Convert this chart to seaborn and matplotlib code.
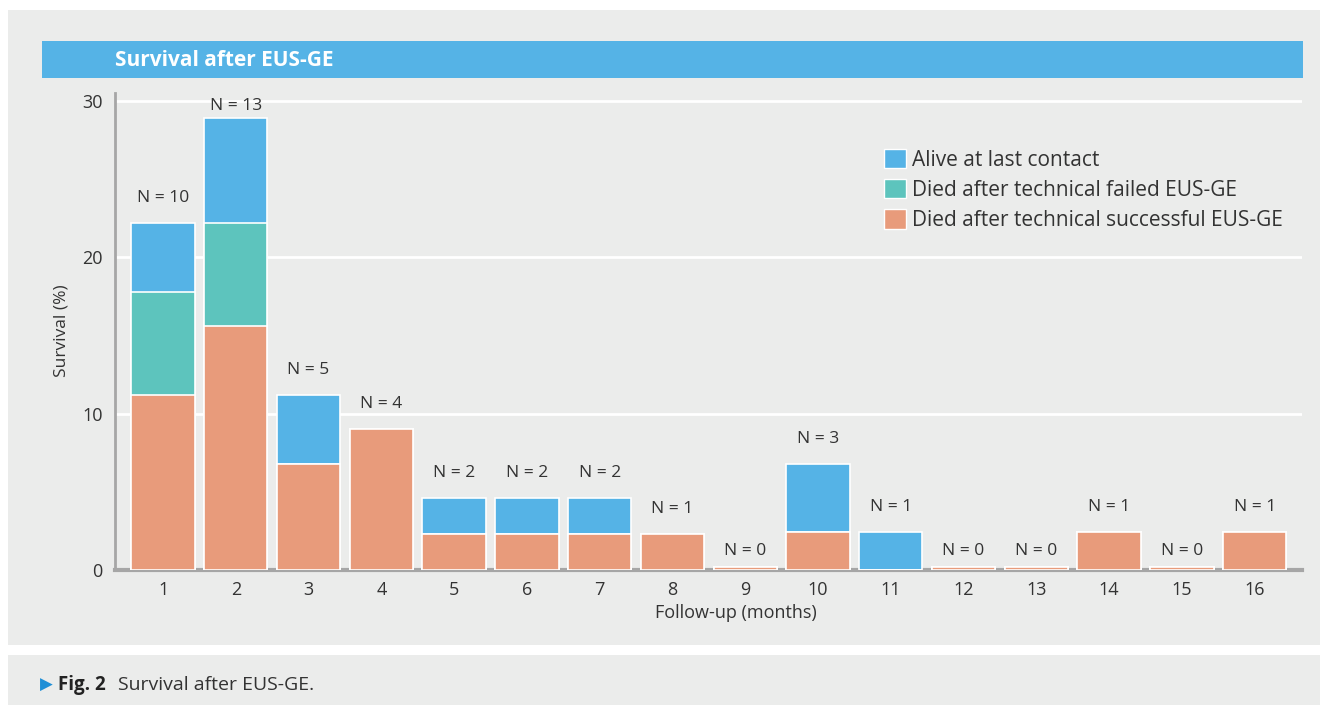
import matplotlib
matplotlib.use("Agg")
import matplotlib.pyplot as plt
import seaborn as sns
import numpy as np
import pandas as pd
from matplotlib.patches import Patch, Rectangle

# ---- data (percent of patients) ----
months = ["1", "2", "3", "4", "5", "6", "7", "8", "9", "10", "11", "12", "13", "14", "15", "16"]
died_success = [11.2, 15.6, 6.8, 9.0, 2.3, 2.3, 2.3, 2.3, 0.2, 2.4, 0.0, 0.2, 0.2, 2.4, 0.2, 2.4]
died_failed = [6.6, 6.6, 0, 0, 0, 0, 0, 0, 0, 0, 0, 0, 0, 0, 0, 0]
alive = [4.4, 6.7, 4.4, 0, 2.3, 2.3, 2.3, 0, 0, 4.4, 2.4, 0, 0, 0, 0, 0]
n_labels = [10, 13, 5, 4, 2, 2, 2, 1, 0, 3, 1, 0, 0, 1, 0, 1]
yticks = [0, 10, 20, 30]

C_ALIVE = "#55b3e6"
C_FAIL = "#5dc4bd"
C_SUCC = "#e89b7b"
BG = "#ebeceb"
TXT = "#333333"

sns.set_theme(style="white")
plt.rcParams["font.family"] = ["Open Sans", "DejaVu Sans"]

df = pd.DataFrame({"month": months, "succ": died_success, "fail": died_failed, "alive": alive})
df["lvl2"] = df["succ"] + df["fail"]
df["lvl3"] = df["lvl2"] + df["alive"]

fig = plt.figure(figsize=(13.2, 7.05), dpi=100)
fig.patch.set_facecolor("white")
# panel backgrounds
fig.patches.append(Rectangle((8/1320, 1-645/705), 1312/1320, 635/705, transform=fig.transFigure,
                             facecolor=BG, edgecolor="none", zorder=-2))
fig.patches.append(Rectangle((8/1320, 0), 1312/1320, 50/705, transform=fig.transFigure,
                             facecolor=BG, edgecolor="none", zorder=-2))
# title bar
fig.patches.append(Rectangle((42/1320, 1-78/705), 1261/1320, 37/705, transform=fig.transFigure,
                             facecolor=C_ALIVE, edgecolor="none", zorder=-1))
fig.text(115/1320, 1-60/705, "Survival after EUS-GE", color="white", fontsize=15,
         fontweight="bold", va="center", ha="left")

ax = fig.add_axes([115/1320, 1-570/705, (1302-115)/1320, (570-93)/705])
ax.set_facecolor(BG)

for col, c in [("lvl3", C_ALIVE), ("lvl2", C_FAIL), ("succ", C_SUCC)]:
    sns.barplot(data=df, x="month", y=col, order=months, color=c, width=0.87,
                edgecolor="white", linewidth=1.2, saturation=1, ax=ax, zorder=3)

ax.set_xlim(-0.66, 15.65)
ax.set_ylim(0, 30.5)
ax.set_yticks(yticks)
ax.set_yticklabels([str(t) for t in yticks], fontsize=13, color=TXT)
ax.tick_params(axis="x", labelsize=13, colors=TXT, length=0, pad=8)
ax.tick_params(axis="y", length=0, pad=9)
ax.grid(axis="y", color="white", linewidth=2, zorder=0)
ax.set_axisbelow(True)
for s in ["top", "right"]:
    ax.spines[s].set_visible(False)
ax.spines["left"].set_color("#a6a6a6")
ax.spines["left"].set_linewidth(2)
ax.spines["bottom"].set_color("#a6a6a6")
ax.spines["bottom"].set_linewidth(3)
ax.set_xlabel("Follow-up (months)", fontsize=13, color=TXT)
ax.xaxis.label.set_va("center")
ax.xaxis.set_label_coords((736-115)/1187, -(613-570)/477)
ax.set_ylabel("Survival (%)", fontsize=12.5, color=TXT)
ax.yaxis.label.set_va("center")
ax.yaxis.set_label_coords(-(115-61)/1187, (570-331)/477)

for i, (tot, n) in enumerate(zip(df["lvl3"], n_labels)):
    off = 1.0 if n == 0 else 1.6
    y = min(tot + off, 29.7)
    ax.text(i, y, f"N = {n}", ha="center", va="center", fontsize=12.5, color=TXT, zorder=5)

handles = [Patch(facecolor=C_ALIVE, edgecolor="white", label="Alive at last contact"),
           Patch(facecolor=C_FAIL, edgecolor="white", label="Died after technical failed EUS-GE"),
           Patch(facecolor=C_SUCC, edgecolor="white", label="Died after technical successful EUS-GE")]
ax.legend(handles=handles, loc="upper left", bbox_to_anchor=((884-115)/1187, (570-149)/477),
          frameon=False, fontsize=15, handlelength=1.05, handleheight=1.05, handletextpad=0.3,
          labelspacing=0.4, borderaxespad=0, borderpad=0, labelcolor=TXT)

fig.text(40/1320, 1-685/705, "\u25B6", color="#1f8fd6", fontsize=12, va="center", ha="left",
         family=["DejaVu Sans"])
fig.text(58/1320, 1-685/705, "Fig. 2", color="#222222", fontsize=13.5, fontweight="bold",
         va="center", ha="left")
fig.text(118/1320, 1-685/705, "Survival after EUS-GE.", color=TXT, fontsize=14,
         va="center", ha="left")

fig.savefig("out.png", dpi=100, facecolor=fig.get_facecolor())
